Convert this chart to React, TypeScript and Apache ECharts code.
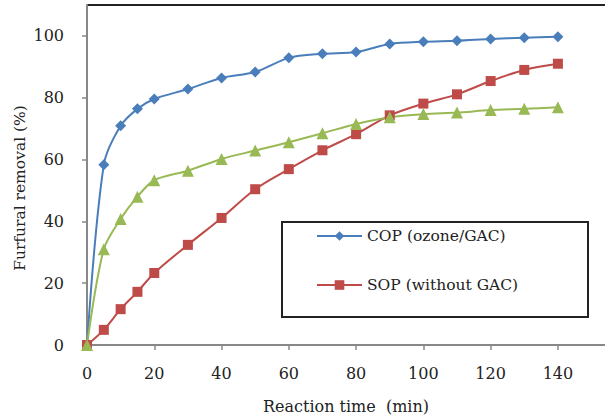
import React, { useEffect, useRef } from "react";
import * as echarts from "echarts";

const times = [0, 5, 10, 15, 20, 30, 40, 50, 60, 70, 80, 90, 100, 110, 120, 130, 140];
const copValues = [0, 58.3, 70.9, 76.4, 79.6, 82.8, 86.4, 88.3, 92.9, 94.2, 94.8, 97.4, 98.1, 98.4, 99.0, 99.4, 99.7];
const sopValues = [0, 4.9, 11.6, 17.2, 23.3, 32.4, 41.1, 50.4, 56.9, 63.0, 68.2, 74.3, 78.1, 81.1, 85.4, 89.0, 91.0];
const gacValues = [0, 31.0, 40.8, 48.0, 53.3, 56.4, 60.2, 62.9, 65.6, 68.5, 71.5, 73.7, 74.7, 75.2, 76.0, 76.4, 76.9];
const xTicks = [0, 20, 40, 60, 80, 100, 120, 140];
const yTicks = [0, 20, 40, 60, 80, 100];

const FONT = "DejaVu Serif";

export default function App() {
  const ref = useRef<HTMLDivElement>(null);
  useEffect(() => {
    if (!ref.current) return;
    const chart = echarts.init(ref.current, null, { renderer: "svg" });
    const pair = (vals: number[]) => times.map((t, i) => [t, vals[i]]);
    chart.setOption({
      animation: false,
      grid: { left: 87, top: 5, right: 0, bottom: 75, containLabel: false },
      xAxis: {
        type: "value",
        min: 0,
        max: 154,
        interval: 20,
        name: "Reaction time  (min)",
        nameLocation: "middle",
        nameGap: 53,
        nameTextStyle: { fontFamily: FONT, fontSize: 16, color: "#222" },
        axisLine: { show: true, lineStyle: { color: "#888", width: 2 } },
        axisTick: { show: true, length: 5, lineStyle: { color: "#888", width: 1.5 }, customValues: xTicks },
        axisLabel: { fontFamily: FONT, fontSize: 16, color: "#222", margin: 20, customValues: xTicks },
        splitLine: { show: false },
      },
      yAxis: {
        type: "value",
        min: 0,
        max: 110,
        interval: 20,
        axisLine: { show: true, lineStyle: { color: "#888", width: 2 } },
        axisTick: { show: true, length: 5, lineStyle: { color: "#888", width: 1.5 }, customValues: yTicks },
        axisLabel: { fontFamily: FONT, fontSize: 16, color: "#222", margin: 23, customValues: yTicks },
        splitLine: { show: false },
      },
      legend: {
        data: ["COP (ozone/GAC)", "SOP (without GAC)"],
        orient: "vertical",
        left: 311,
        top: 223,
        itemWidth: 45,
        itemHeight: 12,
        itemGap: 33,
        textStyle: { fontFamily: FONT, fontSize: 15.5, color: "#222" },
      },
      graphic: [
        {
          type: "rect",
          shape: { x: 282, y: 222, width: 306, height: 95 },
          style: { fill: "none", stroke: "#222", lineWidth: 2 },
          z: 1,
        },
        {
          type: "line",
          shape: { x1: 87, y1: 5, x2: 605, y2: 5 },
          style: { stroke: "#222", lineWidth: 2 },
        },
        {
          type: "text",
          x: 20,
          y: 188,
          rotation: Math.PI / 2,
          style: {
            text: "Furfural removal (%)",
            fontFamily: FONT,
            fontSize: 15.5,
            fill: "#222",
            align: "center",
            verticalAlign: "middle",
          },
        },
      ],
      series: [
        {
          name: "COP (ozone/GAC)",
          type: "line",
          data: pair(copValues),
          smooth: 0.3,
          symbol: "diamond",
          symbolSize: 11,
          lineStyle: { color: "#4A7EBB", width: 2 },
          itemStyle: { color: "#4A7EBB" },
        },
        {
          name: "SOP (without GAC)",
          type: "line",
          data: pair(sopValues),
          smooth: 0.3,
          symbol: "rect",
          symbolSize: 10,
          lineStyle: { color: "#BE4B48", width: 2 },
          itemStyle: { color: "#BE4B48" },
        },
        {
          name: "GAC adsorption",
          type: "line",
          data: pair(gacValues),
          smooth: 0.3,
          symbol: "triangle",
          symbolSize: 12,
          lineStyle: { color: "#98B954", width: 2 },
          itemStyle: { color: "#98B954" },
        },
      ],
    });
    return () => chart.dispose();
  }, []);
  return <div ref={ref} style={{ width: 605, height: 420, position: "absolute", left: 0, top: 0 }} />;
}
